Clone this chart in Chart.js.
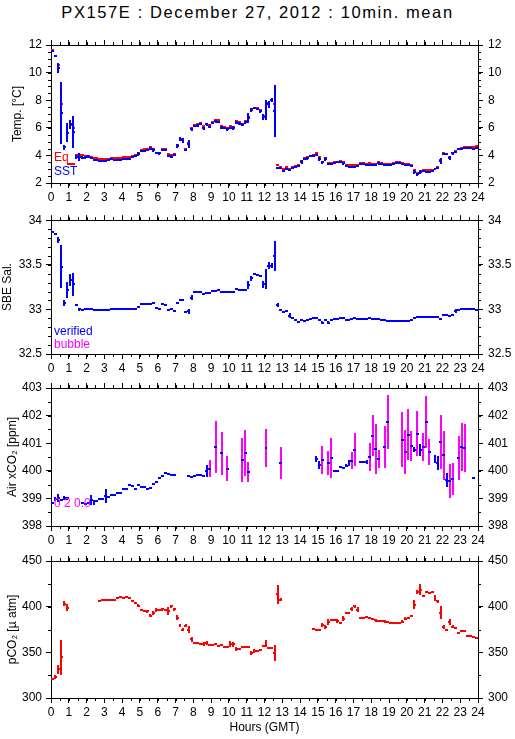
<!DOCTYPE html>
<html><head><meta charset="utf-8">
<script src="https://cdn.jsdelivr.net/npm/chart.js@4"></script>
<style>
html,body{margin:0;padding:0;background:#fff}
body{width:515px;height:739px;overflow:hidden;position:relative;font-family:"Liberation Sans",Arial,sans-serif}
#title{position:absolute;left:0;top:0;width:515px;text-align:center;font-size:16.5px;line-height:24px;letter-spacing:1.6px;color:#000}
canvas{position:absolute;left:0}
</style></head><body>
<div id="title">PX157E : December 27, 2012 : 10min. mean</div>
<canvas id="c1" width="515" height="178" style="top:30px"></canvas>
<canvas id="c2" width="515" height="167" style="top:208px"></canvas>
<canvas id="c3" width="515" height="170" style="top:375px"></canvas>
<canvas id="c4" width="515" height="194" style="top:545px"></canvas>
<script>
// ---- DATA (10-minute slots, slot k covers k/6 .. (k+1)/6 hours GMT) ----
const hourTicks = [0,1,2,3,4,5,6,7,8,9,10,11,12,13,14,15,16,17,18,19,20,21,22,23,24];

const eqTemp = [11.61,11.23,10.58,7.71,4.63,5.64,6.22,5.95,4.05,4.03,
4.0,3.93,3.98,3.86,3.78,3.78,3.72,3.71,3.71,3.73,
3.83,3.8,3.78,3.83,3.88,3.88,3.88,3.98,4.05,4.17,
4.42,4.46,4.5,4.63,4.5,4.2,4.2,4.5,4.48,4.1,
4.0,4.1,4.75,5.23,5.2,4.43,4.87,6.0,6.19,6.24,
6.36,6.1,6.27,6.19,6.39,6.55,6.55,6.1,6.07,5.98,
6.1,6.07,6.48,6.41,6.31,6.48,6.75,7.35,7.47,7.4,
7.32,6.87,7.83,7.83,8.05,7.71,3.3,3.18,2.99,3.13,
3.04,3.16,3.23,3.33,3.57,3.78,3.86,3.98,4.05,4.14,
3.86,3.54,3.8,3.47,3.42,3.54,3.54,3.61,3.49,3.3,
3.3,3.3,3.3,3.33,3.42,3.42,3.4,3.42,3.37,3.4,
3.49,3.44,3.4,3.4,3.4,3.47,3.52,3.5,3.45,3.37,
3.37,3.33,2.94,2.75,2.89,2.94,2.92,2.92,2.92,3.04,
3.16,3.66,4.14,4.12,3.88,4.19,4.29,4.48,4.53,4.63,
4.63,4.63,4.6,4.65];

const sst = [11.57,11.18,10.36,7.04,4.58,5.64,6.24,5.69,3.9,3.9,
3.83,3.86,3.9,3.8,3.69,3.66,3.61,3.61,3.61,3.64,
3.71,3.7,3.66,3.7,3.73,3.73,3.75,3.86,3.95,4.1,
4.3,4.31,4.38,4.5,4.39,4.14,4.14,4.4,4.36,3.95,
3.9,4.0,4.67,5.18,5.08,4.39,4.82,5.9,6.14,6.14,
6.29,5.95,6.24,6.07,6.36,6.46,6.41,6.02,5.98,5.9,
6.02,6.0,6.36,6.31,6.22,6.41,6.7,7.28,7.42,7.34,
7.2,6.8,7.28,7.7,8.0,7.2,3.11,3.11,2.89,2.99,
2.94,3.06,3.18,3.25,3.52,3.73,3.78,3.93,3.98,4.05,
3.73,3.49,3.73,3.35,3.35,3.47,3.5,3.54,3.42,3.2,
3.18,3.18,3.18,3.2,3.35,3.35,3.3,3.33,3.3,3.3,
3.42,3.37,3.33,3.33,3.33,3.37,3.42,3.42,3.38,3.28,
3.28,3.23,2.82,2.63,2.77,2.87,2.82,2.82,2.84,2.99,
3.11,3.59,4.1,4.07,3.81,4.14,4.27,4.46,4.48,4.53,
4.53,4.53,4.5,4.55];

const sstErr = [0,0,0.36,2.25,0.2,0.7,0.35,1.17,0.15,0.3,
0.1,0.1,0.1,0.08,0,0,0,0,0,0,
0,0,0,0,0,0,0,0,0,0.15,
0,0,0,0.1,0.12,0,0.12,0.1,0,0,
0.12,0,0.15,0.12,0.2,0.1,0.3,0.12,0,0.1,
0,0.12,0.1,0.12,0,0.12,0,0.1,0,0.1,
0,0.15,0.1,0.1,0.1,0.1,0.36,0.15,0,0,
0.1,0.2,0.75,0.25,0.15,1.87,0,0.05,0,0.08,
0,0,0,0,0.12,0,0.08,0.08,0,0,
0.15,0.1,0.12,0,0,0,0,0,0.12,0,
0,0,0,0,0,0,0,0,0,0,
0.08,0,0,0,0,0,0,0,0,0,
0,0.1,0.15,0.1,0.15,0,0,0,0,0,
0,0.22,0,0,0.15,0.1,0,0,0,0,
0,0,0,0];

const salinity = [33.87,33.85,33.78,33.48,33.07,33.22,33.33,33.28,33.05,33.0,
32.99,33.0,33.0,33.0,32.99,32.99,32.99,32.99,32.99,32.99,
33.0,33.01,33.01,33.01,33.01,33.01,33.01,33.01,33.01,33.03,
33.06,33.06,33.06,33.06,33.07,33.02,33.0,33.06,33.05,32.99,
33.0,32.98,33.07,33.11,33.11,32.97,32.98,33.13,33.19,33.19,
33.19,33.17,33.18,33.18,33.21,33.21,33.22,33.19,33.19,33.19,
33.19,33.19,33.23,33.22,33.22,33.22,33.27,33.35,33.4,33.39,
33.38,33.28,33.34,33.49,33.49,33.6,33.05,32.99,32.97,32.98,
32.93,32.9,32.88,32.86,32.88,32.87,32.88,32.89,32.9,32.9,
32.88,32.85,32.88,32.85,32.88,32.89,32.89,32.9,32.9,32.88,
32.88,32.89,32.9,32.89,32.89,32.89,32.89,32.9,32.89,32.89,
32.89,32.88,32.88,32.87,32.87,32.87,32.87,32.87,32.87,32.87,
32.87,32.88,32.9,32.92,32.91,32.91,32.91,32.91,32.91,32.91,
32.91,32.89,32.94,32.94,32.93,32.94,32.98,32.99,33.0,33.01,
33.01,33.01,33.0,32.99];

const salErr = [0,0,0.03,0.24,0.03,0.09,0.07,0.13,0.015,0.015,
0,0,0,0,0,0,0,0,0,0,
0,0,0,0,0,0,0,0,0,0,
0,0,0,0,0,0,0,0,0,0,
0,0.01,0,0,0,0.01,0.03,0.03,0,0,
0,0,0,0,0,0,0,0,0,0,
0,0,0,0,0,0,0.045,0.03,0.01,0,
0,0.04,0.11,0.04,0.03,0.17,0.02,0,0,0,
0.025,0,0,0,0,0,0,0,0,0,
0.01,0.015,0,0.015,0,0,0,0,0,0,
0,0,0,0,0,0,0,0,0,0,
0,0,0,0,0,0,0,0,0,0,
0,0,0.01,0,0,0,0,0,0,0,
0,0,0,0,0,0,0.02,0,0,0,
0,0,0,0];

const airSlots = [0,1,2,3,4,5,10,11,12,13,14,15,16,17,18,19,20,21,22,23,24,25,26,27,28,29,30,31,32,33,34,35,36,37,38,39,40,41,
46,47,48,49,50,51,52,53,55,57,59,64,65,66,72,77,
89,90,91,93,94,95,96,97,98,99,100,101,102,104,105,106,107,108,109,110,112,113,
118,119,120,121,122,123,124,125,126,127,129,130,131,132,133,134,135,137,138,139,142];
const airXco2 = [398.83,398.98,399.01,398.95,399.01,399.01,398.83,398.81,398.85,398.93,398.86,398.92,398.99,398.99,399.1,399.04,399.14,399.14,399.2,399.2,399.35,399.35,399.5,399.44,399.35,399.5,399.41,399.41,399.34,399.38,399.53,399.58,399.73,399.82,399.92,399.88,399.86,399.85,
399.8,399.79,399.82,399.85,399.84,399.82,400.0,400.08,400.86,400.64,400.08,400.4,400.64,399.96,400.83,400.28,
400.43,400.22,400.39,400.28,400.46,400.0,400.0,400.13,400.1,400.19,400.28,400.37,400.77,400.32,400.31,400.32,400.5,401.27,400.79,400.43,400.86,401.77,
401.13,400.68,401.31,400.91,400.77,401.35,400.75,400.86,401.77,400.69,400.43,400.28,401.04,400.56,399.68,399.64,399.71,400.46,400.86,400.83,399.74];
const airErr = [0.03,0.08,0.15,0.03,0.06,0.05,0,0,0,0.18,0.1,0.03,0,0,0.25,0.03,0,0,0,0,0,0,0,0,0,0,0,0,0,0,0,0,0,0,0,0,0,0,
0,0,0,0,0,0,0.21,0.32,0.95,0.78,0.46,0.79,0.83,0.36,0.68,0.58,
0.1,0.14,0.51,0.42,0.72,0,0,0.03,0,0.05,0.12,0.32,0.59,0,0,0.06,0.5,0.75,0.9,0.33,0.75,0.98,
1.0,0.8,0.92,0.54,0.1,0.82,0.22,0.5,0.94,0.47,0.15,0.25,0.97,0.89,0.25,0.62,0.57,0.81,0.86,0.86,0.04];
const airBubble = [0,0,0,0,0,0,0,0,0,0,0,0,0,0,0,0,0,0,0,0,0,0,0,0,0,0,0,0,0,0,0,0,0,0,0,0,0,0,
0,0,0,0,0,0,0,1,1,1,1,1,1,1,1,1,
0,0,1,1,1,0,0,0,0,0,0,1,1,0,0,0,1,1,1,1,1,1,
1,1,1,1,0,1,0,1,1,1,0,0,1,1,0,1,1,1,1,1,0];

const pco2Slots = [0,1,2,3,4,5,
16,17,18,19,20,21,22,23,24,25,26,27,28,29,30,31,32,33,34,35,36,37,38,39,40,41,42,43,44,45,46,47,48,49,50,51,52,53,54,55,56,57,58,59,60,61,62,63,64,65,66,67,68,69,70,71,72,73,74,75,76,77,
88,89,90,91,92,93,94,95,96,97,98,99,100,101,102,103,104,105,106,107,108,109,110,111,112,113,114,115,116,117,118,119,120,121,122,123,124,125,126,127,128,129,130,131,132,133,134,135,136,137,138,139,140,141,142,143];
const pco2 = [320.4,323.3,331.3,344.4,403.4,399,
406.3,407.8,407.8,407.8,407.8,407.8,409.6,410.7,409.6,410.7,410,406.3,404.5,401.2,396.1,395,395,390.3,393.2,396.1,396.1,397.2,396.1,395.4,400.5,397.2,388.1,379.7,375,379,375,364.1,360.4,360.4,359,359,360.4,357.9,357.9,358.6,356.4,357.5,356,356,359,358.6,353.9,353.9,355.3,355.3,355.3,349.5,351.7,351.7,352.4,356.8,359.7,355,354.6,349.5,413.6,407.8,
375.3,374.3,374.3,379.7,377.9,383.4,385.9,385.2,384.1,382.3,387,393.2,393.2,397.2,400.5,396.8,388.1,388.1,388.8,388.1,386.3,385.2,384.1,384.1,384.1,383.4,382.3,382.3,382.6,382.3,383.4,387,387.7,389.9,402.3,416.1,418.7,411.8,416.1,415,416.1,409.6,406,393.2,377.9,375,383.4,377.9,376.1,371.7,373.2,373.2,367.7,368.1,367,365.2];
const pco2Err = [1,2,4.5,19,3,3.5,
1,0,0,0,0,0,0,1,0,1,1,1,1,2,1,0,1.5,1.5,2,2,1,1.5,0,4,1.5,1.5,3,1.5,2,1.5,4,2.5,1,0,1.5,2,2.5,1.5,0,1,0,1,0,0,3,3,2,1,1,1,1,2.5,2,1,1,1.5,4,1,1,8.5,10.5,2,
1,0,0,2,2,3,0,0,2,0,3,1,0,2,1.5,3,0,0,0,0,1,1.5,1,0,1.5,0,0,0,0,1,1.5,1.5,0,1.5,4.5,2.5,6,1.5,0,0,1,3,1.5,7,2.5,1,3.5,1.5,1,1,0,0,0,0,0,1];

// ---- rendering helpers ----
const FONT = "'Liberation Sans', Arial, sans-serif";
const BLUE = '#0000ff', RED = '#ff0000', MAGENTA = '#ff00ff';
const slotHour = k => (k + 0.5) / 6;
const HALF_SLOT = 1 / 12;

function series(values, errs, slots, flags) {
  return values.map((v, i) => ({
    x: slotHour(slots ? slots[i] : i), y: v,
    e: errs ? errs[i] : 0, b: flags ? flags[i] : 0
  }));
}

const errBarPlugin = {
  id: 'errbars',
  afterDatasetsDraw(chart) {
    const {ctx, chartArea: a} = chart;
    const xs = chart.scales.x, ys = chart.scales.y;
    ctx.save();
    ctx.beginPath(); ctx.rect(a.left, a.top, a.right - a.left, a.bottom - a.top); ctx.clip();
    ctx.lineCap = 'butt';
    chart.data.datasets.forEach((ds, i) => {
      const meta = chart.getDatasetMeta(i);
      meta.data.forEach((el, j) => {
        const p = ds.data[j];
        const px = Math.round(el.x), py = Math.round(el.y);
        if (p.e) {
          ctx.lineWidth = 2;
          ctx.strokeStyle = p.b ? MAGENTA : ds.barColor;
          ctx.beginPath();
          ctx.moveTo(px, Math.round(ys.getPixelForValue(p.y - p.e)));
          ctx.lineTo(px, Math.round(ys.getPixelForValue(p.y + p.e)));
          ctx.stroke();
        }
        ctx.lineWidth = 2;
        ctx.strokeStyle = ds.dashColor;
        ctx.beginPath();
        ctx.moveTo(Math.round(xs.getPixelForValue(p.x - HALF_SLOT)), py);
        ctx.lineTo(Math.round(xs.getPixelForValue(p.x + HALF_SLOT)), py);
        ctx.stroke();
      });
    });
    ctx.restore();
  }
};

function minorTickPlugin(steps) {
  return {
    id: 'minorTicks',
    afterDraw(chart) {
      const ctx = chart.ctx;
      ctx.save(); ctx.strokeStyle = '#000'; ctx.lineWidth = 1;
      Object.keys(steps).forEach(id => {
        const s = chart.scales[id], st = steps[id];
        const n = Math.round((s.max - s.min) / st);
        for (let i = 0; i <= n; i++) {
          const p = Math.round(s.getPixelForValue(s.min + i * st)) + 0.5;
          ctx.beginPath();
          if (s.position === 'bottom') { ctx.moveTo(p, s.top); ctx.lineTo(p, s.top + 3); }
          else if (s.position === 'top') { ctx.moveTo(p, s.bottom); ctx.lineTo(p, s.bottom - 3); }
          else if (s.position === 'left') { ctx.moveTo(s.right, p); ctx.lineTo(s.right - 3, p); }
          else { ctx.moveTo(s.left, p); ctx.lineTo(s.left + 3, p); }
          ctx.stroke();
        }
      });
      ctx.restore();
    }
  };
}

function notesPlugin(notes) {
  return {
    id: 'notes',
    afterDraw(chart) {
      const {ctx, chartArea: a} = chart;
      ctx.save();
      ctx.font = '12px ' + FONT; ctx.textBaseline = 'middle'; ctx.textAlign = 'left';
      notes.forEach(n => {
        ctx.fillStyle = n.color;
        ctx.fillText(n.text, a.left + n.dx, a.bottom - n.dy);
        if (n.line) {
          ctx.strokeStyle = n.color; ctx.lineWidth = 2;
          ctx.beginPath(); ctx.moveTo(a.left + n.line[0], a.bottom - n.line[2]);
          ctx.lineTo(a.left + n.line[1], a.bottom - n.line[2]); ctx.stroke();
        }
      });
      ctx.restore();
    }
  };
}

function tickFont() { return {family: FONT, size: 12}; }
const fmt = v => String(Number(v.toFixed(3)));

function makePanel(id, cfg) {
  const canvas = document.getElementById(id);
  const H = canvas.height;
  const common = {
    type: 'linear',
    grid: {drawOnChartArea: false, drawTicks: true, tickLength: 5, color: '#000', lineWidth: 1},
    border: {display: true, color: '#000', width: 1}
  };
  return new Chart(canvas, {
    type: 'scatter',
    data: {datasets: cfg.datasets},
    options: {
      responsive: false, animation: false, devicePixelRatio: 1, events: [],
      layout: {padding: {top: cfg.top - 5, bottom: 0, left: 0, right: 0}},
      plugins: {legend: {display: false}, tooltip: {enabled: false}, title: {display: false}},
      elements: {point: {radius: 0, hoverRadius: 0}},
      scales: {
        x: Object.assign({}, common, {
          position: 'bottom', min: 0, max: 24,
          afterBuildTicks(s) { s.ticks = hourTicks.map(v => ({value: v})); },
          ticks: {autoSkip: false, maxRotation: 0, color: '#000', font: tickFont(), padding: 2},
          title: cfg.xTitle ? {display: true, text: cfg.xTitle, color: '#000', font: tickFont(), padding: {top: 0, bottom: 4}} : {display: false},
          afterFit(s) { s.height = H - cfg.bottom; }
        }),
        xTop: Object.assign({}, common, {
          position: 'top', min: 0, max: 24,
          afterBuildTicks(s) { s.ticks = hourTicks.map(v => ({value: v})); },
          ticks: {display: false},
          afterFit(s) { s.height = 5; }
        }),
        y: Object.assign({}, common, {
          position: 'left', min: cfg.yMin, max: cfg.yMax,
          ticks: {stepSize: cfg.yStep, color: '#000', font: tickFont(), padding: 4, callback: fmt},
          title: {display: true, text: cfg.yTitle, color: '#000', font: tickFont(), padding: {top: cfg.titlePad, bottom: 0}},
          afterFit(s) { s.width = 51; }
        }),
        y2: Object.assign({}, common, {
          position: 'right', min: cfg.yMin, max: cfg.yMax,
          ticks: {stepSize: cfg.yStep, color: '#000', font: tickFont(), padding: 5, callback: fmt},
          afterFit(s) { s.width = 37; }
        })
      }
    },
    plugins: [errBarPlugin, minorTickPlugin({x: 0.5, xTop: 0.5, y: cfg.yMinor, y2: cfg.yMinor}), notesPlugin(cfg.notes || [])]
  });
}

makePanel('c1', {
  top: 15, bottom: 153, yMin: 2, yMax: 12, yStep: 2, yMinor: 0.5, yTitle: 'Temp. [°C]', titlePad: 10,
  datasets: [
    {label: 'Eq', data: series(eqTemp), dashColor: RED, barColor: RED},
    {label: 'SST', data: series(sst, sstErr), dashColor: BLUE, barColor: BLUE}
  ],
  notes: [{text: 'Eq', color: RED, dx: 3, dy: 25, line: [16, 24, 19]}, {text: 'SST', color: BLUE, dx: 3, dy: 11}]
});

makePanel('c2', {
  top: 9, bottom: 146, yMin: 32.5, yMax: 34, yStep: 0.5, yMinor: 0.1, yTitle: 'SBE Sal.', titlePad: 0,
  datasets: [
    {label: 'verified', data: series(salinity, salErr), dashColor: BLUE, barColor: BLUE}
  ],
  notes: [{text: 'verified', color: BLUE, dx: 3, dy: 22}, {text: 'bubble', color: MAGENTA, dx: 3, dy: 9}]
});

makePanel('c3', {
  top: 13, bottom: 151, yMin: 398, yMax: 403, yStep: 1, yMinor: 0.5, yTitle: 'Air xCO₂ [ppm]', titlePad: 5,
  datasets: [
    {label: 'Air xCO2', data: series(airXco2, airErr, airSlots, airBubble), dashColor: BLUE, barColor: BLUE}
  ],
  notes: [{text: '0 2 0.0', color: MAGENTA, dx: 3, dy: 22}]
});

makePanel('c4', {
  top: 16, bottom: 153, yMin: 300, yMax: 450, yStep: 50, yMinor: 25, yTitle: 'pCO₂ [µ atm]', titlePad: 5, xTitle: 'Hours (GMT)',
  datasets: [
    {label: 'pCO2', data: series(pco2, pco2Err, pco2Slots), dashColor: RED, barColor: RED}
  ]
});
</script>
</body></html>
